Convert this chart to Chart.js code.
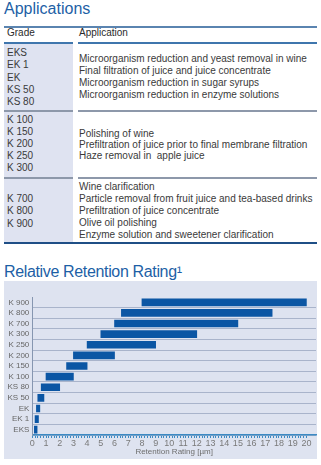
<!DOCTYPE html>
<html>
<head>
<meta charset="utf-8">
<script src="https://cdn.jsdelivr.net/npm/chart.js@4.4.1/dist/chart.umd.min.js"></script>
<style>
  html, body { margin: 0; padding: 0; background: #fff; }
  body { width: 321px; height: 465px; position: relative; overflow: hidden;
         font-family: 'Liberation Sans', Arial, sans-serif; color: #3a3a3a; }
  .abs { position: absolute; }
  .title { font-size: 16px; line-height: 18px; color: #1d5fa6; left: 4px; white-space: nowrap; }
  .hdr { font-size: 10px; line-height: 12px; color: #2b2b2b; top: 27px; }
  .txt { font-size: 10px; white-space: nowrap; }
  .line { height: 2px; }
</style>
</head>
<body>

<div class="abs title" style="top:0px">Applications</div>
<div class="abs line" style="left:4px; width:313px; top:26px; background:#5a84b0"></div>

<div class="abs hdr" style="left:7px">Grade</div>
<div class="abs hdr" style="left:79px">Application</div>

<div class="abs" style="left:4px; width:69px; top:44px; height:199px; background:#dfe3f1"></div>
<div class="abs line" style="left:4px; width:69px; top:42px; background:#3f76ad"></div>
<div class="abs line" style="left:78px; width:239px; top:42px; background:#3f76ad"></div>

<div class="abs txt" style="left:7px; top:47px; line-height:12.25px">EKS<br>EK 1<br>EK<br>KS 50<br>KS 80</div>
<div class="abs txt" style="left:79px; top:53.4px; line-height:11.9px">Microorganism reduction and yeast removal in wine<br>Final filtration of juice and juice concentrate<br>Microorganism reduction in sugar syrups<br>Microorganism reduction in enzyme solutions</div>

<div class="abs line" style="left:4px; width:69px; top:110px; height:1.5px; background:#8d98aa"></div>
<div class="abs line" style="left:78px; width:239px; top:110px; height:1.5px; background:#8d98aa"></div>

<div class="abs txt" style="left:7px; top:114px; line-height:12.1px">K 100<br>K 150<br>K 200<br>K 250<br>K 300</div>
<div class="abs txt" style="left:79px; top:127.8px; line-height:11px">Polishing of wine<br>Prefiltration of juice prior to final membrane filtration<br>Haze removal in&nbsp; apple juice</div>

<div class="abs line" style="left:4px; width:69px; top:177px; height:1.5px; background:#8d98aa"></div>
<div class="abs line" style="left:78px; width:239px; top:177px; height:1.5px; background:#8d98aa"></div>

<div class="abs txt" style="left:7px; top:193.2px; line-height:12.3px">K 700<br>K 800<br>K 900</div>
<div class="abs txt" style="left:79px; top:181.3px; line-height:12px">Wine clarification<br>Particle removal from fruit juice and tea-based drinks<br>Prefiltration of juice concentrate<br>Olive oil polishing<br>Enzyme solution and sweetener clarification</div>

<div class="abs line" style="left:4px; width:313px; top:242px; background:#1f4f86"></div>

<div class="abs title" style="top:263px; letter-spacing:-0.35px">Relative Retention Rating¹</div>

<canvas id="retention" class="abs" width="313" height="178" style="left:4px; top:281px; background:#dee3f0"></canvas>

<script>
// grades top to bottom
var grades = ['K 900', 'K 800', 'K 700', 'K 300', 'K 250', 'K 200', 'K 150', 'K 100', 'KS 80', 'KS 50', 'EK', 'EK 1', 'EKS'];
// retention range in µm
var rangeStart = [8, 6.5, 6, 5, 4, 3, 2.5, 1, 0.65, 0.4, 0.3, 0.2, 0.15];
var rangeEnd = [20, 17.5, 15, 12, 9, 6, 4, 3, 2, 0.85, 0.55, 0.45, 0.35];
// x axis labels, minor tick every 0.2
var tickLabels = [0, 1, 2, 3, 4, 5, 6, 7, 8, 9, 10, 11, 12, 13, 14, 15, 16, 17, 18, 19, 20];
var minorStep = 0.2;

Chart.defaults.font.family = "'Liberation Sans', Arial, sans-serif";

var ranges = grades.map(function (g, i) {
    return [rangeStart[i], rangeEnd[i]];
});

const ctx = document.getElementById('retention');

const config = {
    type: 'bar',
    data: {
        labels: grades,
        datasets: [{
            data: ranges,
            backgroundColor: '#0b56a4',
            borderWidth: 0,
            barThickness: 7,
        }]
    },
    options: {
        indexAxis: 'y',
        responsive: false,
        animation: false,
        layout: {
            padding: { top: 16, right: 1, left: 0, bottom: 0 }
        },
        plugins: {
            legend: { display: false },
            tooltip: { enabled: false }
        },
        scales: {
            x: {
                type: 'linear',
                min: 0,
                max: 20.7,
                afterBuildTicks: function (axis) {
                    var last = tickLabels[tickLabels.length - 1];
                    var n = Math.round(last / minorStep);
                    var ticks = [];
                    for (var i = 0; i <= n; i++) {
                        ticks.push({ value: Math.round(i * minorStep * 100) / 100 });
                    }
                    axis.ticks = ticks;
                },
                afterFit: function (scale) {
                    scale.height = 24;
                },
                grid: {
                    drawOnChartArea: false,
                    drawTicks: true,
                    tickLength: 3,
                    tickColor: '#3d8ac4',
                    tickWidth: 1
                },
                border: { color: '#3d8ac4', width: 1.5 },
                ticks: {
                    autoSkip: false,
                    maxRotation: 0,
                    minRotation: 0,
                    padding: 0,
                    color: '#7a7a7a',
                    font: { size: 9 },
                    callback: function (v) {
                        return tickLabels.indexOf(Math.round(v * 100) / 100) >= 0 ? String(Math.round(v)) : '';
                    }
                },
                title: {
                    display: true,
                    text: 'Retention Rating [µm]',
                    color: '#6e6e6e',
                    font: { size: 8 },
                    padding: { top: 0, bottom: 2 }
                }
            },
            y: {
                afterFit: function (scale) {
                    scale.width = 28.3;
                },
                grid: {
                    offset: true,
                    drawTicks: false,
                    color: function (c) {
                        return c.index === 0 ? 'rgba(0,0,0,0)' : '#a9b4cb';
                    }
                },
                border: { color: '#8696b0', width: 1 },
                ticks: {
                    autoSkip: false,
                    padding: 3,
                    color: '#666',
                    font: { size: 8 }
                }
            }
        }
    }
};

var retentionChart = new Chart(ctx, config);
</script>
</body>
</html>
